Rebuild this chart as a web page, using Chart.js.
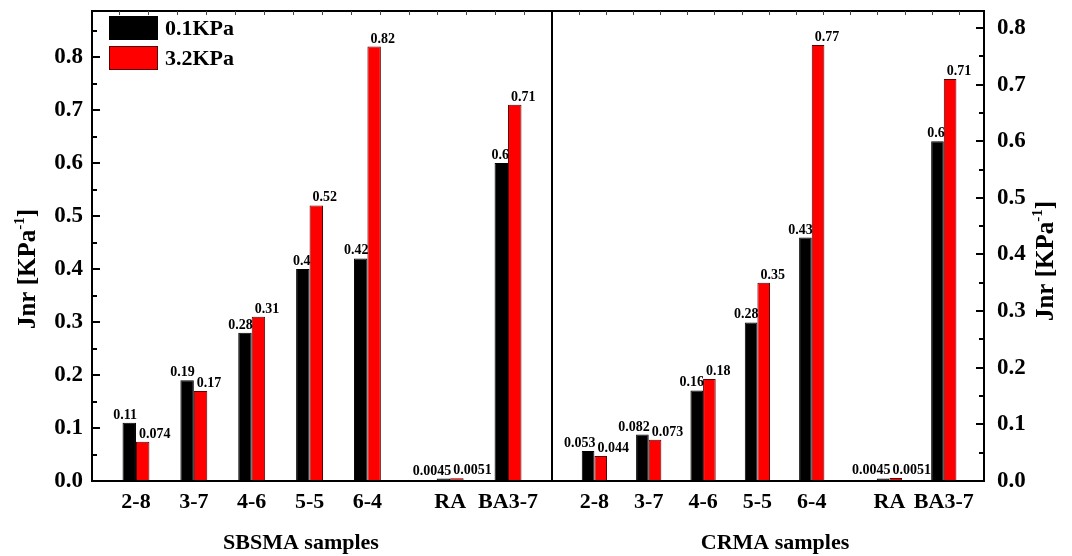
<!DOCTYPE html>
<html>
<head>
<meta charset="utf-8">
<script src="https://cdn.jsdelivr.net/npm/chart.js@4.4.1/dist/chart.umd.min.js"></script>
<style>
html,body{margin:0;padding:0;background:#fff;}
#wrap{position:relative;width:1072px;height:556px;overflow:hidden;}
#c1{position:absolute;left:0;top:0;}
#c2{position:absolute;left:552px;top:0;}
</style>
</head>
<body>
<div id="wrap">
<canvas id="c1" width="553" height="556"></canvas>
<canvas id="c2" width="520" height="556"></canvas>
</div>
<script>
// data
const samples=["2-8","3-7","4-6","5-5","6-4","RA","BA3-7"];
const series=["0.1KPa","3.2KPa"];
const sbsmaLow=[0.11,0.19,0.28,0.4,0.42,0.0045,0.6];
const sbsmaHigh=[0.074,0.17,0.31,0.52,0.82,0.0051,0.71];
const crmaLow=[0.053,0.082,0.16,0.28,0.43,0.0045,0.6];
const crmaHigh=[0.044,0.073,0.18,0.35,0.77,0.0051,0.71];
const yTickLabels=["0.0","0.1","0.2","0.3","0.4","0.5","0.6","0.7","0.8"];

const SERIF="'Liberation Serif','Times New Roman',serif";
// RA and BA3-7 sit a bit further right (gap after 6-4)
const slot=samples.map(function(s,i){return i<5?i:i+0.43;});

function pts(vals){
    return slot.map(function(x,i){return {x:x,y:vals[i]};});
}

const barValues={
    id:'barValues',
    afterDatasetsDraw:function(chart){
        var ctx=chart.ctx;
        ctx.save();
        ctx.font='bold 14px '+SERIF;
        ctx.fillStyle='#000';
        ctx.textBaseline='alphabetic';
        chart.data.datasets.forEach(function(ds,di){
            chart.getDatasetMeta(di).data.forEach(function(el,i){
                var v=String(ds.data[i].y);
                var half=el.width/2;
                if(di===0){
                    ctx.textAlign='right';
                    ctx.fillText(v,el.x+half+1,el.y-4);
                }else{
                    ctx.textAlign='left';
                    ctx.fillText(v,el.x-half+3,el.y-4);
                }
            });
        });
        ctx.restore();
    }
};

const frame={
    id:'frame',
    afterDraw:function(chart,args,o){
        var ctx=chart.ctx,a=chart.chartArea,y=chart.scales.y,x=chart.scales.x;
        ctx.save();
        ctx.strokeStyle='#000';
        ctx.lineWidth=2;
        ctx.strokeRect(a.left,a.top,a.right-a.left,a.bottom-a.top);
        // inward y ticks, minor every 0.05
        var edge=o.side==='left'?a.left:a.right;
        var dir=o.side==='left'?1:-1;
        for(var k=0;k*0.05<=y.max+1e-9;k++){
            var py=Math.round(y.getPixelForValue(k*0.05));
            var len=k%2===0?8:5;
            ctx.beginPath();
            ctx.moveTo(edge,py);
            ctx.lineTo(edge+dir*len,py);
            ctx.stroke();
        }
        // small ticks on top edge
        ctx.lineWidth=1;
        ctx.strokeStyle='#444';
        for(var j=-3;j<20;j++){
            var v=0.21+0.5*j;
            if(v<=x.min||v>=x.max) continue;
            var px=Math.round(x.getPixelForValue(v))+0.5;
            ctx.beginPath();
            ctx.moveTo(px,a.top);
            ctx.lineTo(px,a.top+4);
            ctx.stroke();
        }
        // axis titles
        ctx.fillStyle='#000';
        ctx.font='bold 22px '+SERIF;
        ctx.textAlign='center';
        ctx.textBaseline='middle';
        ctx.fillText(o.xTitle,o.xTitleX,543);

        ctx.translate(o.yTitleX,o.yTitleY);
        ctx.rotate(-Math.PI/2);
        var f1='bold 25px '+SERIF,f2='bold 15px '+SERIF;
        var s1='Jnr [KPa',s2='-1',s3=']';
        ctx.font=f1;
        var w1=ctx.measureText(s1).width,w3=ctx.measureText(s3).width;
        ctx.font=f2;
        var w2=ctx.measureText(s2).width;
        var sx=-(w1+w2+w3)/2;
        ctx.textAlign='left';
        ctx.font=f1;ctx.fillText(s1,sx,0);
        ctx.font=f2;ctx.fillText(s2,sx+w1,-9);
        ctx.font=f1;ctx.fillText(s3,sx+w1+w2,0);
        ctx.restore();
    }
};

const legendBoxes={
    id:'legendBoxes',
    afterDraw:function(chart,args,o){
        if(!o.show) return;
        var ctx=chart.ctx;
        ctx.save();
        chart.data.datasets.forEach(function(ds,i){
            var y=16+i*30;
            ctx.fillStyle=ds.backgroundColor;
            ctx.fillRect(109,y,49,24);
            ctx.strokeStyle=ds.borderColor;
            ctx.lineWidth=1;
            ctx.strokeRect(109.5,y+0.5,48,23);
            ctx.fillStyle='#000';
            ctx.font='bold 22px '+SERIF;
            ctx.textAlign='left';
            ctx.textBaseline='middle';
            ctx.fillText(ds.label,165,y+13);
        });
        ctx.restore();
    }
};

function makeChart(id,low,high,cfg){
    var ctx=document.getElementById(id).getContext('2d');
    return new Chart(ctx,{
        type:'bar',
        data:{
            datasets:[
                {label:series[0],data:pts(low),backgroundColor:'#000000',borderColor:'#000000',borderWidth:1},
                {label:series[1],data:pts(high),backgroundColor:'#ff0000',borderColor:'#5a0000',borderWidth:1}
            ]
        },
        options:{
            responsive:false,
            animation:false,
            events:[],
            categoryPercentage:0.465,
            barPercentage:1,
            layout:{padding:cfg.padding},
            scales:{
                x:{
                    type:'linear',
                    offset:false,
                    min:cfg.xMin,
                    max:cfg.xMax,
                    grid:{display:false,drawTicks:false},
                    border:{display:false},
                    afterBuildTicks:function(scale){
                        scale.ticks=slot.map(function(v){return {value:v};});
                    },
                    afterFit:function(scale){
                        scale.height=75;
                        scale.paddingLeft=0;
                        scale.paddingRight=0;
                    },
                    ticks:{
                        autoSkip:false,
                        maxRotation:0,
                        padding:8,
                        color:'#000',
                        font:{family:SERIF,size:22,weight:'bold'},
                        callback:function(value){
                            var i=slot.indexOf(value);
                            return i<0?'':samples[i];
                        }
                    }
                },
                y:{
                    position:cfg.side,
                    min:0,
                    max:cfg.yMax,
                    grid:{display:false,drawTicks:false},
                    border:{display:false},
                    afterFit:function(scale){
                        scale.width=cfg.yWidth;
                        scale.paddingTop=0;
                        scale.paddingBottom=0;
                    },
                    ticks:{
                        stepSize:0.1,
                        includeBounds:false,
                        padding:cfg.tickPad,
                        color:'#000',
                        font:{family:SERIF,size:23,weight:'bold'},
                        callback:function(value){
                            var i=Math.round(value*10);
                            return yTickLabels[i];
                        }
                    }
                }
            },
            plugins:{
                legend:{display:false},
                tooltip:{enabled:false},
                frame:{side:cfg.side,xTitle:cfg.xTitle,xTitleX:cfg.xTitleX,yTitleX:cfg.yTitleX,yTitleY:cfg.yTitleY},
                legendBoxes:{show:cfg.legend}
            }
        },
        plugins:[barValues,frame,legendBoxes]
    });
}

makeChart('c1',sbsmaLow,sbsmaHigh,{
    side:'left',yMax:0.887,xMin:-0.76,xMax:7.19,yWidth:92,tickPad:9,
    padding:{top:11,right:1,left:0,bottom:0},
    xTitle:'SBSMA samples',xTitleX:301,yTitleX:29,yTitleY:269,legend:true
});
makeChart('c2',crmaLow,crmaHigh,{
    side:'right',yMax:0.830,xMin:-0.78,xMax:7.17,yWidth:88,tickPad:13,
    padding:{top:11,right:0,left:0,bottom:0},
    xTitle:'CRMA samples',xTitleX:223,yTitleX:495,yTitleY:261,legend:false
});
</script>
</body>
</html>
